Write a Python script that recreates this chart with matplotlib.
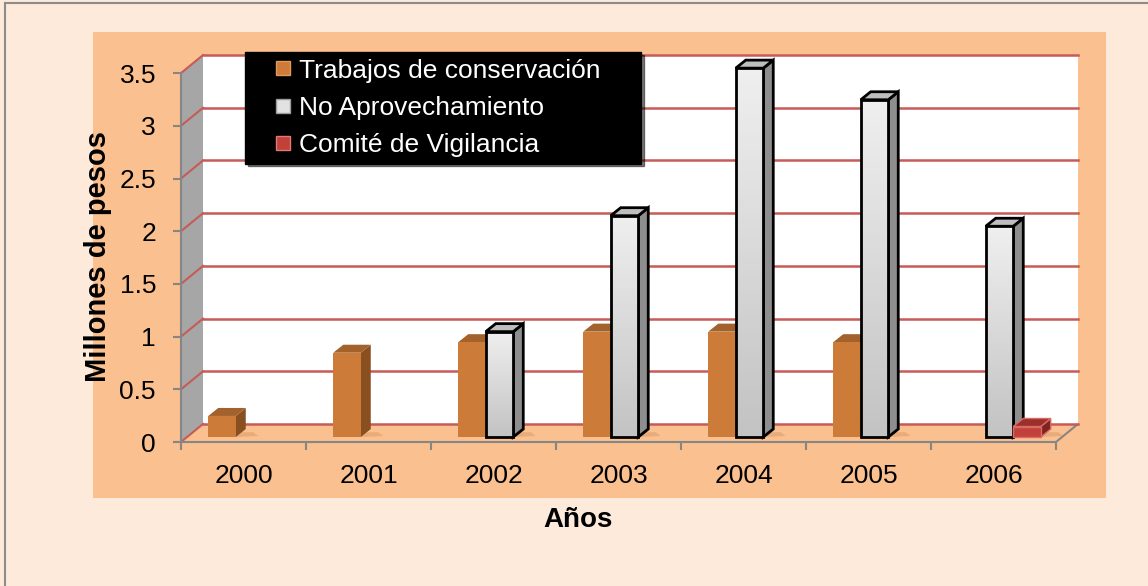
import numpy as np
import matplotlib.pyplot as plt
from matplotlib.patches import Polygon, Rectangle
from matplotlib.lines import Line2D
from matplotlib.colors import LinearSegmentedColormap

# ------------------------------------------------------------
# data
# ------------------------------------------------------------
years = ['2000', '2001', '2002', '2003', '2004', '2005', '2006']
trabajos = [0.2, 0.8, 0.9, 1.0, 1.0, 0.9, 0.0]
no_aprovechamiento = [0.0, 0.0, 1.0, 2.1, 3.5, 3.2, 2.0]
comite = [0.0, 0.0, 0.0, 0.0, 0.0, 0.0, 0.1]
series_names = ['Trabajos de conservación', 'No Aprovechamiento', 'Comité de Vigilancia']
y_ticks = [0, 0.5, 1, 1.5, 2, 2.5, 3, 3.5]
y_tick_labels = ['0', '0.5', '1', '1.5', '2', '2.5', '3', '3.5']

plt.rcParams['font.family'] = ['Liberation Sans', 'DejaVu Sans']

W, H = 1148, 586
fig = plt.figure(figsize=(W / 100, H / 100), dpi=100, facecolor='#FDEADA')


def fx(px):
    return px / W


def fy(py):
    return 1 - py / H


# inner peach panel + outer frame
fig.add_artist(Rectangle((fx(93), fy(498)), (1106 - 93) / W, (498 - 32) / H,
                         transform=fig.transFigure, facecolor='#FAC090',
                         edgecolor='none', zorder=-2))
fig.add_artist(Line2D([fx(5), fx(5)], [fy(3), 0], transform=fig.transFigure,
                      color='#8C8C8C', lw=1.5, zorder=-1))
fig.add_artist(Line2D([fx(5), 1], [fy(3), fy(3)], transform=fig.transFigure,
                      color='#8C8C8C', lw=1.5, zorder=-1))

# axes: 125 px per category, 105.4 px per million
XMAX, YMAX = 7.3, 3.8
ax = fig.add_axes([181 / W, (H - 442) / H, 125 * XMAX / W, 105.4 * YMAX / H])
ax.set_facecolor('none')
ax.set_xlim(0, XMAX)
ax.set_ylim(0, YMAX)

n = len(years)
DX, DY = 0.176, 0.171          # depth of the box (floor / walls)
BASE = 0.047                    # bar front plane sits a bit inside the floor
BW = 0.22                       # bar width
BDX, BDY = 0.08, 0.076          # bar depth
OFFS = [0.218, 0.438, 0.658]
grid_c = '#C65B57'
axis_c = '#868686'

# back wall, left wall, floor
ax.add_patch(Rectangle((DX, DY), n, y_ticks[-1], facecolor='white', edgecolor='none', zorder=0.5))
ax.add_patch(Polygon([(0, 0), (DX, DY), (DX, y_ticks[-1] + DY), (0, y_ticks[-1])],
                     closed=True, facecolor='#A6A6A6', edgecolor='none', zorder=0.5))
ax.add_patch(Polygon([(0, 0), (n, 0), (n + DX, DY), (DX, DY)], closed=True,
                     facecolor='#FAC090', edgecolor='none', zorder=0.6))
ax.plot([n, n + DX], [0, DY], color=axis_c, lw=1.5, zorder=1, solid_capstyle='butt')

# gridlines on back and left walls
for v in y_ticks:
    ax.plot([DX, n + DX], [v + DY, v + DY], color=grid_c, lw=1.8, zorder=1)
    ax.plot([0, DX], [v, v + DY], color=grid_c, lw=1.5, zorder=1)

# ------------------------------------------------------------
# pseudo 3d bars
# ------------------------------------------------------------
styles = [
    dict(face='#CD7B38', side='#8A4F20', top='#A3622B', edge='none', lw=0),
    dict(face='none', side='#8E8E8E', top='#BEBEBE', edge='black', lw=2),
    dict(face='#C2403A', side='#7E2320', top='#9A302C', edge='#D96A66', lw=1),
]
grad = LinearSegmentedColormap.from_list('g', ['#C3C3C3', '#EFEFEF'])

for s, vals in enumerate([trabajos, no_aprovechamiento, comite]):
    st = styles[s]
    z = 3 + s
    vals = np.array(vals)
    keep = vals > 0
    xs = np.arange(n)[keep] + OFFS[s]
    hs = vals[keep]
    bars = ax.bar(xs, hs, width=BW, bottom=BASE, align='edge', facecolor=st['face'],
                  edgecolor=st['edge'], linewidth=st['lw'], zorder=z + 0.2)
    for b, x, h in zip(bars, xs, hs):
        b.set_joinstyle('miter')
        y1 = BASE + h
        # shadow on the floor
        ax.add_patch(Polygon([(x + BW, BASE), (x + BW + BDX + 0.1, BASE + 0.01),
                              (x + BW + BDX + 0.06, BASE + BDY * 0.6), (x + BW, BASE + BDY * 0.6)],
                             closed=True, facecolor='#C98550', alpha=0.35,
                             edgecolor='none', zorder=2))
        side = Polygon([(x + BW, BASE), (x + BW + BDX, BASE + BDY),
                        (x + BW + BDX, y1 + BDY), (x + BW, y1)], closed=True,
                       facecolor=st['side'], edgecolor=st['edge'], linewidth=st['lw'],
                       joinstyle='miter', zorder=z)
        top = Polygon([(x, y1), (x + BW, y1), (x + BW + BDX, y1 + BDY), (x + BDX, y1 + BDY)],
                      closed=True, facecolor=st['top'], edgecolor=st['edge'],
                      linewidth=st['lw'], joinstyle='miter', zorder=z)
        ax.add_patch(side)
        ax.add_patch(top)
        if s == 1:
            im = ax.imshow(np.linspace(0, 1, 64)[:, None], cmap=grad, origin='lower',
                           extent=[x, x + BW, BASE, y1], aspect='auto', zorder=z + 0.1)
            im.set_clip_path(b)

ax.set_xlim(0, XMAX)
ax.set_ylim(0, YMAX)

# ------------------------------------------------------------
# axes, ticks, labels
# ------------------------------------------------------------
for sp in ['top', 'right']:
    ax.spines[sp].set_visible(False)
for sp in ['left', 'bottom']:
    ax.spines[sp].set_color(axis_c)
    ax.spines[sp].set_linewidth(1.5)
    ax.spines[sp].set_zorder(2)
ax.spines['left'].set_bounds(0, y_ticks[-1])
ax.spines['bottom'].set_bounds(0, n)

ax.set_yticks(y_ticks)
ax.set_yticklabels(y_tick_labels)
ax.set_xticks(np.arange(n + 1))
ax.set_xticklabels([])
ax.set_xticks(np.arange(n) + 0.5, minor=True)
ax.set_xticklabels(years, minor=True)
ax.tick_params(axis='y', which='major', direction='out', length=6, width=1.5,
               color=axis_c, pad=12, labelsize=19)
ax.tick_params(axis='x', which='major', direction='out', length=6, width=1.5, color=axis_c)
ax.tick_params(axis='x', which='minor', length=0, pad=16, labelsize=19)

ax.set_ylabel('Millones de pesos', fontsize=21, fontweight='bold', va='center')
ax.yaxis.set_label_coords((98.5 - 181) / (125 * XMAX), (442 - 257) / (105.4 * YMAX))
ax.set_xlabel('Años', fontsize=20, fontweight='bold', va='center')
ax.xaxis.set_label_coords((578 - 181) / (125 * XMAX), (442 - 520) / (105.4 * YMAX))

# legend
handles = [
    Line2D([], [], marker='s', ls='none', markersize=10, markerfacecolor='#CD7B38', markeredgecolor='#E09A60'),
    Line2D([], [], marker='s', ls='none', markersize=10, markerfacecolor='#E2E2E2', markeredgecolor='#9A9A9A'),
    Line2D([], [], marker='s', ls='none', markersize=10, markerfacecolor='#C2403A', markeredgecolor='#E07A76'),
]
leg = ax.legend(handles, series_names, loc='upper left',
                bbox_to_anchor=(fx(245), fy(166), (641 - 245) / W, (166 - 52) / H),
                bbox_transform=fig.transFigure, mode='expand', borderaxespad=0,
                facecolor='black', edgecolor='black', framealpha=1, fancybox=False,
                labelcolor='white', fontsize=19, borderpad=0.25, handlelength=2.4,
                handletextpad=-0.6, labelspacing=0.5, shadow=True)
leg.set_zorder(10)

fig.savefig('out.png', dpi=100, facecolor=fig.get_facecolor())
